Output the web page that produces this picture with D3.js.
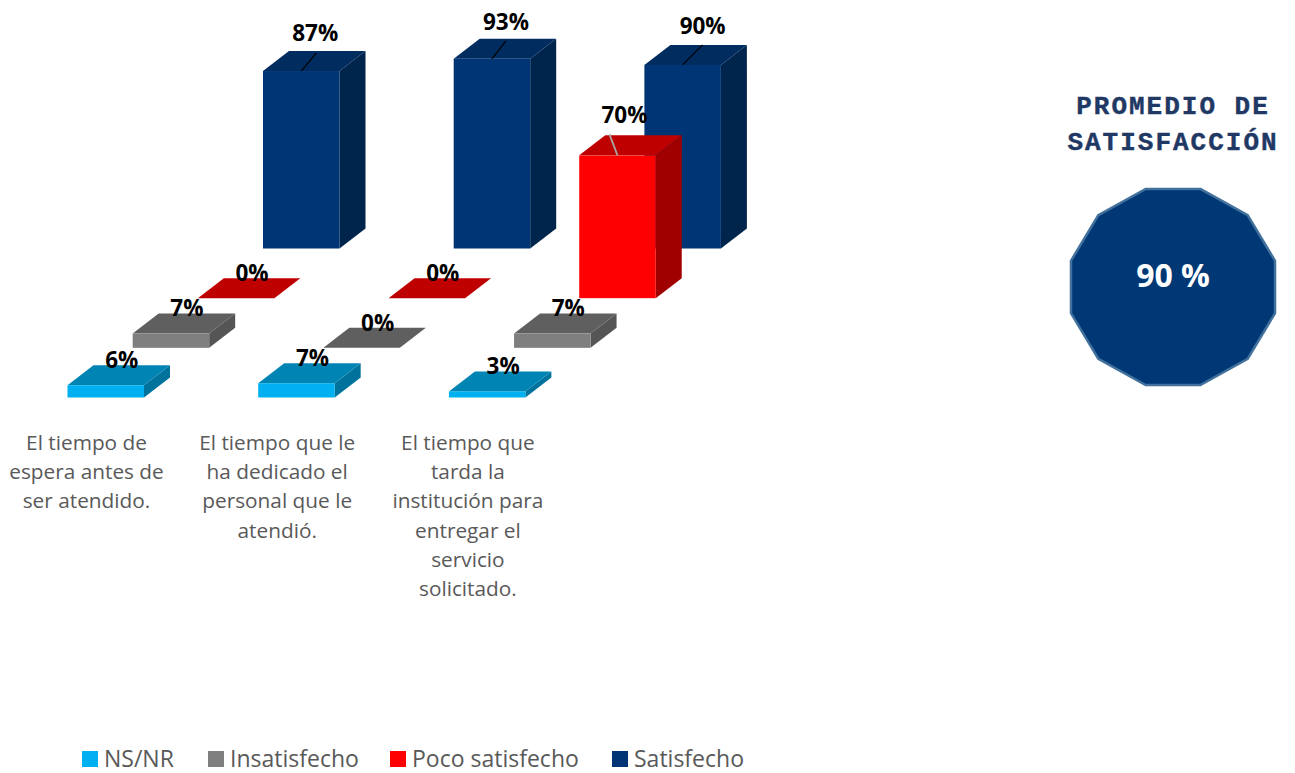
<!DOCTYPE html>
<html lang="es">
<head>
<meta charset="utf-8">
<title>Promedio de satisfacción</title>
<script src="https://cdn.jsdelivr.net/npm/d3@7/dist/d3.min.js"></script>
<style>
  html, body { margin: 0; padding: 0; background: #fff; }
  svg { display: block; }
</style>
</head>
<body>
<svg id="chart" width="1295" height="773"></svg>
<script>
// Survey values, in percent
const categories = [
  ["El tiempo de", "espera antes de", "ser atendido."],
  ["El tiempo que le", "ha dedicado el", "personal que le", "atendió."],
  ["El tiempo que", "tarda la", "institución para", "entregar el", "servicio", "solicitado."]
];
const seriesNames = ["NS/NR", "Insatisfecho", "Poco satisfecho", "Satisfecho"];
const nsnr = [6, 7, 3];
const insatisfecho = [7, 0, 7];
const pocoSatisfecho = [0, 0, 70];
const satisfecho = [87, 93, 90];
const promedio = 90;
const titleLines = ["PROMEDIO DE", "SATISFACCIÓN"];

const seriesValues = [nsnr, insatisfecho, pocoSatisfecho, satisfecho];

// Face colours per series
const faces = [
  { front: "#00b0f0", top: "#0084b4", side: "#00729c" },
  { front: "#7f7f7f", top: "#5f5f5f", side: "#555555" },
  { front: "#ff0000", top: "#bf0000", side: "#a00000" },
  { front: "#003575", top: "#012c60", side: "#00254d" }
];

const svg = d3.select("#chart");
const sansFont = "'Open Sans', 'Noto Sans', sans-serif";

const barWidth = 76.5;
const depthX = 26;
const depthY = 20;

const groupIdx = d3.range(categories.length);
const seriesIdx = d3.range(seriesNames.length);

// Groups run left to right; each series steps right and up in the pseudo 3D floor.
const xGroup = d3.scaleBand().domain(groupIdx).range([67.5, 67.5 + 190.7 * 3]);
const xSeries = d3.scalePoint().domain(seriesIdx).range([0, 195.5]);
const yBase = d3.scalePoint().domain(seriesIdx).range([397.5, 248.5]);
const height = d3.scaleLinear().domain([0, 100]).range([0, 204]);

const bars = [];
seriesIdx.slice().reverse().forEach(s => {
  groupIdx.forEach(g => {
    const value = seriesValues[s][g];
    const x = xGroup(g) + xSeries(s);
    const base = yBase(s);
    bars.push({ s, g, value, x, base, top: base - height(value) });
  });
});

const poly = pts => pts.map(p => p.join(",")).join(" ");

// Draw back rows first, so nearer boxes overlap them (the red box sits over the blue one).
const barG = svg.append("g").selectAll("g").data(bars).join("g");

barG.filter(d => d.value > 0).append("polygon")
  .attr("fill", d => faces[d.s].side)
  .attr("points", d => poly([
    [d.x + barWidth, d.top],
    [d.x + barWidth + depthX, d.top - depthY],
    [d.x + barWidth + depthX, d.base - depthY],
    [d.x + barWidth, d.base]
  ]));

barG.append("polygon")
  .attr("fill", d => faces[d.s].top)
  .attr("points", d => poly([
    [d.x, d.top],
    [d.x + depthX, d.top - depthY],
    [d.x + barWidth + depthX, d.top - depthY],
    [d.x + barWidth, d.top]
  ]));

barG.filter(d => d.value > 0).append("rect")
  .attr("fill", d => faces[d.s].front)
  .attr("x", d => d.x)
  .attr("y", d => d.top)
  .attr("width", barWidth)
  .attr("height", d => d.base - d.top);

// Tall boxes carry their label further out, joined by a leader line.
const leaderOffset = new Map([
  ["3-0", { dx: 14, dy: -38, lx: 15, ly: -18, color: "#000", w: 1.2 }],
  ["3-1", { dx: 14, dy: -37, lx: 14, ly: -18, color: "#000", w: 1.2 }],
  ["3-2", { dx: 20, dy: -39, lx: 20, ly: -20, color: "#000", w: 1.2 }],
  ["2-2", { dx: 7, dy: -40, lx: -8, ly: -21, color: "#a6a6a6", w: 1.8 }]
]);

const labelG = svg.append("g").selectAll("g").data(bars).join("g");

labelG.each(function (d) {
  const cx = d.x + barWidth / 2;
  const lead = leaderOffset.get(`${d.s}-${d.g}`);
  const sel = d3.select(this);
  if (lead) {
    sel.append("line")
      .attr("x1", cx).attr("y1", d.top)
      .attr("x2", cx + lead.lx).attr("y2", d.top + lead.ly)
      .attr("stroke", lead.color).attr("stroke-width", lead.w);
  }
  sel.append("text")
    .attr("x", cx + (lead ? lead.dx : 16))
    .attr("y", d.top + (lead ? lead.dy : -25))
    .attr("dy", "0.35em")
    .attr("text-anchor", "middle")
    .attr("font-family", sansFont)
    .attr("font-weight", 700)
    .attr("font-size", 22.5)
    .attr("fill", "#000")
    .text(`${d.value}%`);
});

// Category captions under each group
svg.append("g").selectAll("text").data(categories).join("text")
  .attr("text-anchor", "middle")
  .attr("font-family", sansFont)
  .attr("font-size", 20.8)
  .attr("fill", "#595959")
  .each(function (lines, g) {
    d3.select(this).selectAll("tspan").data(lines).join("tspan")
      .attr("x", xGroup(g) + 19)
      .attr("y", (d, i) => 450 + i * 29.2)
      .text(d => d);
  });

// Legend
const legendSwatchX = [82, 208, 390, 612];
const legend = svg.append("g").selectAll("g").data(seriesNames).join("g")
  .attr("transform", (d, i) => `translate(${legendSwatchX[i]},751)`);
legend.append("rect")
  .attr("width", 16).attr("height", 16)
  .attr("fill", (d, i) => faces[i].front);
legend.append("text")
  .attr("x", 22).attr("y", 16)
  .attr("font-family", sansFont)
  .attr("font-size", 23)
  .attr("fill", "#595959")
  .text(d => d);

// Average panel on the right
svg.append("g").selectAll("text").data(titleLines).join("text")
  .attr("x", 1173)
  .attr("y", (d, i) => 114 + i * 36)
  .attr("text-anchor", "middle")
  .attr("font-family", "'Liberation Mono', monospace")
  .attr("font-weight", 700)
  .attr("font-size", 26)
  .attr("letter-spacing", 2)
  .attr("fill", "#1f3864")
  .attr("stroke", "#1f3864")
  .attr("stroke-width", 0.4)
  .text(d => d);

// Twelve-sided badge, slightly flattened vertically
const radiusX = 105.6;
const radiusY = 101.5;
const dodecagon = d3.range(12).map(i => {
  const a = (15 + i * 30) * Math.PI / 180;
  return [1173 + radiusX * Math.sin(a), 287 - radiusY * Math.cos(a)];
});
svg.append("polygon")
  .attr("points", poly(dodecagon))
  .attr("fill", "#003876")
  .attr("stroke", "#41719c")
  .attr("stroke-width", 2.5);
svg.append("text")
  .attr("x", 1173).attr("y", 276)
  .attr("dy", "0.35em")
  .attr("text-anchor", "middle")
  .attr("font-family", sansFont)
  .attr("font-weight", 700)
  .attr("font-size", 32)
  .attr("fill", "#fff")
  .text(`${promedio} %`);
</script>
</body>
</html>
